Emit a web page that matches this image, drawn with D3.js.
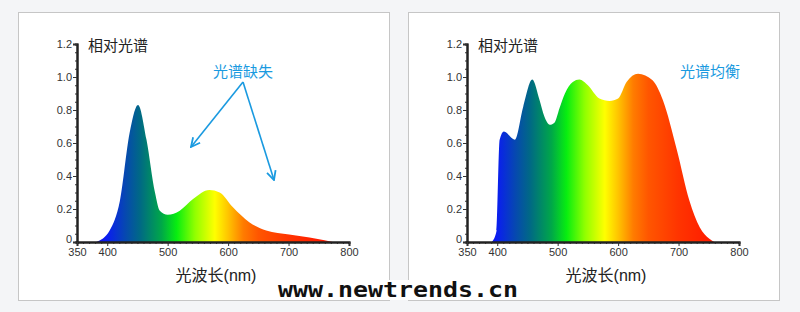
<!DOCTYPE html>
<html>
<head>
<meta charset="utf-8">
<script src="https://cdn.jsdelivr.net/npm/d3@7"></script>
<style>
  body { margin: 0; background: #f4f5f7; }
  svg { display: block; }
  text { font-family: Arial, "Liberation Sans", "Noto Sans CJK SC", sans-serif; }
</style>
</head>
<body>
<div id="chart"></div>
<script>
// spectrum of the left (missing) lamp
const leftWl  = [382, 404, 421, 437, 451, 465, 479, 487, 500, 520, 542, 569, 586, 608, 635, 663, 701, 746, 773];
const leftVal = [0, 0.07, 0.25, 0.66, 0.83, 0.62, 0.30, 0.19, 0.165, 0.19, 0.26, 0.315, 0.30, 0.21, 0.12, 0.07, 0.045, 0.02, 0];

// spectrum of the right (balanced) lamp
const rightWl  = [391, 399, 404, 411, 429, 443, 458, 470, 478, 487, 495, 503, 512, 525, 536, 550, 569, 586, 600, 614, 633, 657, 674, 697, 718, 735, 751, 759];
const rightVal = [0, 0.07, 0.62, 0.67, 0.62, 0.82, 0.985, 0.86, 0.76, 0.71, 0.725, 0.81, 0.90, 0.97, 0.985, 0.95, 0.87, 0.855, 0.87, 0.97, 1.02, 0.98, 0.86, 0.56, 0.25, 0.09, 0.02, 0];

// colour of each wavelength
const stopWl    = [380, 400, 430, 455, 490, 515, 545, 578, 600, 625, 650, 700, 770];
const stopColor = ["#1a10e0", "#0a1ef0", "#0648b0", "#006a84", "#00a848", "#08ee10", "#90ff00", "#ffff00", "#ffc400", "#ff7c00", "#ff5600", "#ff3400", "#ff1400"];

const xTicks = [350, 400, 500, 600, 700, 800];
const yTicks = [0, 0.2, 0.4, 0.6, 0.8, 1.0, 1.2];

const W = 800, H = 312;
const svg = d3.select("#chart").append("svg").attr("width", W).attr("height", H);

const panels = [
  {x0: 18, ox: 77, wl: leftWl, val: leftVal, id: "gL", note: "光谱缺失", noteX: 243},
  {x0: 408, ox: 467, wl: rightWl, val: rightVal, id: "gR", note: "光谱均衡", noteX: 710}
];

const defs = svg.append("defs");
defs.append("marker")
  .attr("id", "arrow").attr("viewBox", "0 0 10 10")
  .attr("refX", 9).attr("refY", 5)
  .attr("markerWidth", 7).attr("markerHeight", 7)
  .attr("orient", "auto-start-reverse")
  .append("path").attr("d", "M1,1 L9,5 L1,9")
  .attr("fill", "none").attr("stroke", "#1a9ae0").attr("stroke-width", 1.6);

panels.forEach(p => {
  const g = svg.append("g");
  g.append("rect")
    .attr("x", p.x0 + 0.5).attr("y", 12.5)
    .attr("width", 371).attr("height", 288)
    .attr("fill", "#fff").attr("stroke", "#c6c6c6");

  const x = d3.scaleLinear().domain([350, 800]).range([p.ox, p.ox + 272]);
  const y = d3.scaleLinear().domain([0, 1.2]).range([242, 44]);

  const grad = defs.append("linearGradient")
    .attr("id", p.id).attr("gradientUnits", "userSpaceOnUse")
    .attr("x1", x(350)).attr("x2", x(800)).attr("y1", 0).attr("y2", 0);
  stopWl.forEach((w, i) => {
    grad.append("stop").attr("offset", (w - 350) / 450).attr("stop-color", stopColor[i]);
  });

  const pts = p.wl.map((w, i) => [w, p.val[i]]);
  const area = d3.area()
    .x(d => x(d[0])).y0(y(0)).y1(d => y(d[1]))
    .curve(d3.curveMonotoneX);
  g.append("path").datum(pts).attr("d", area).attr("fill", "url(#" + p.id + ")");

  // y axis
  const ya = g.append("g").attr("transform", `translate(${p.ox},0)`)
    .call(d3.axisLeft(y).tickValues(d3.range(0, 1.2001, 0.05)).tickSize(2).tickFormat(""));
  ya.append("g").call(d3.axisLeft(y).tickValues(yTicks).tickSize(4)
    .tickFormat(d => d === 0 ? "0" : d3.format(".1f")(d)));
  ya.selectAll(".domain").attr("stroke", "#222").attr("stroke-width", 2);
  ya.selectAll("line").attr("stroke", "#333");
  ya.selectAll("text").attr("font-size", 11).attr("fill", "#333").attr("x", -5)
    .attr("y", d => d === 0 ? -3 : 0);

  // x axis
  const xa = g.append("g").attr("transform", "translate(0,242)")
    .call(d3.axisBottom(x).tickValues(d3.range(350, 801, 10)).tickSize(2).tickFormat(""));
  xa.append("g").call(d3.axisBottom(x).tickValues(xTicks).tickSize(4).tickFormat(d3.format("d")));
  xa.selectAll(".domain").attr("stroke", "#222").attr("stroke-width", 2);
  xa.selectAll("line").attr("stroke", "#333");
  xa.selectAll("text").attr("font-size", 11).attr("fill", "#333").attr("dy", "0.6em");

  g.append("text").attr("x", p.ox + 11).attr("y", 51)
    .attr("font-size", 15).attr("fill", "#222").text("相对光谱");
  g.append("text").attr("x", x(580)).attr("y", 281).attr("text-anchor", "middle")
    .attr("font-size", 16).attr("fill", "#222").text("光波长(nm)");
  g.append("text").attr("x", p.noteX).attr("y", 77).attr("text-anchor", "middle")
    .attr("font-size", 15).attr("fill", "#1a9ae0").text(p.note);
});

// arrows of the left note
[[191, 147], [274, 180]].forEach(e => {
  svg.append("line").attr("x1", 243).attr("y1", 82).attr("x2", e[0]).attr("y2", e[1])
    .attr("stroke", "#1a9ae0").attr("stroke-width", 1.6).attr("marker-end", "url(#arrow)");
});

// watermark
svg.append("rect").attr("x", 274).attr("y", 280).attr("width", 248).attr("height", 20).attr("fill", "#fff");
svg.append("text").attr("x", 278).attr("y", 297)
  .style("font-family", "'DejaVu Sans Mono', monospace").attr("font-weight", "bold")
  .attr("font-size", 22).attr("textLength", 240).attr("lengthAdjust", "spacingAndGlyphs")
  .attr("fill", "#111").text("www.newtrends.cn");
</script>
</body>
</html>
